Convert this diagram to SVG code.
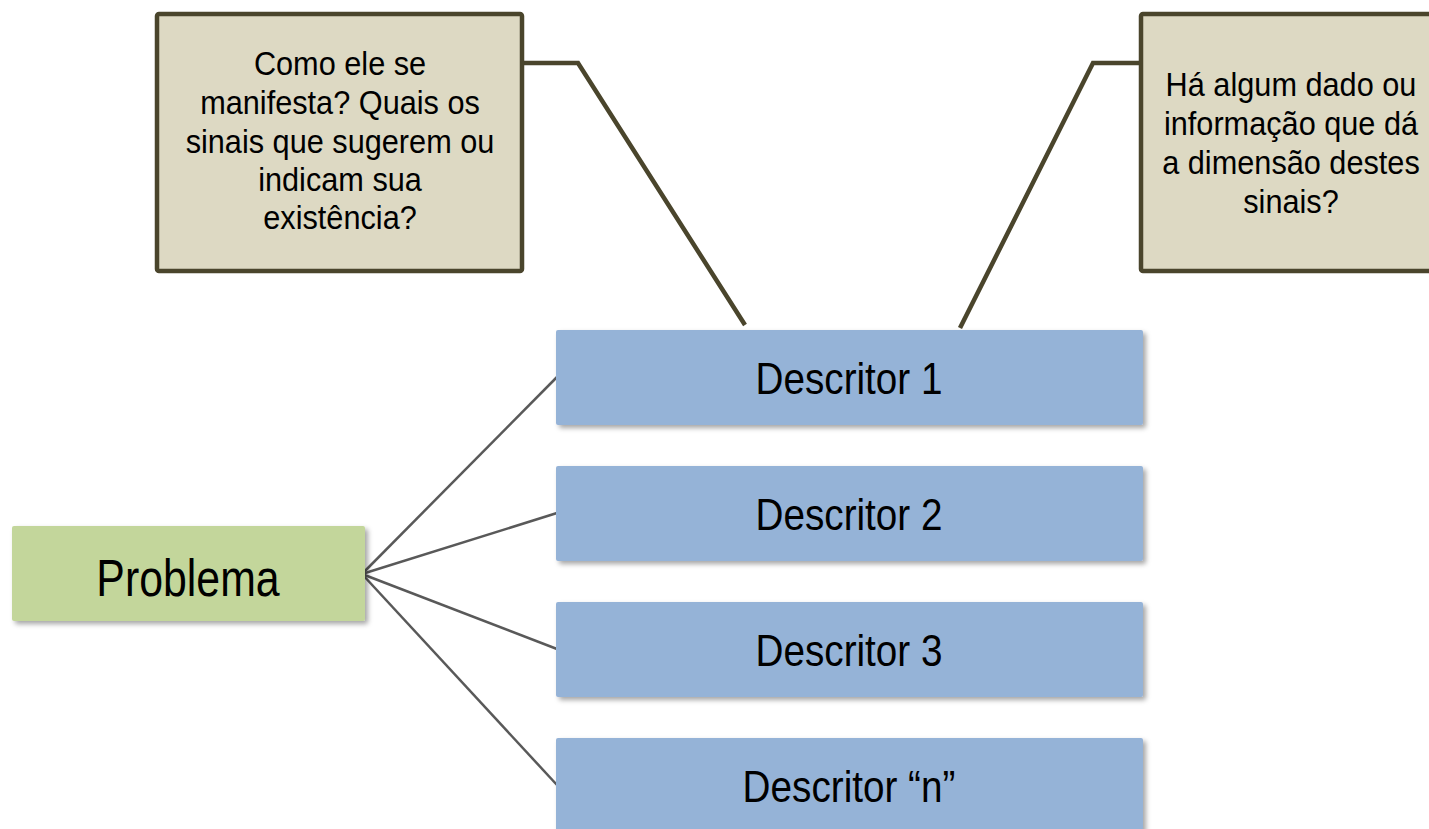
<svg xmlns="http://www.w3.org/2000/svg" width="1429" height="829" viewBox="0 0 1429 829">
<defs>
<filter id="sh" x="-10%" y="-20%" width="130%" height="150%">
<feDropShadow dx="3" dy="3" stdDeviation="2.5" flood-color="#000" flood-opacity="0.35"/>
</filter>
<style>
.t{font-family:"Liberation Sans",Arial,sans-serif;fill:#000;text-anchor:middle}
.call{fill:#ddd9c3;stroke:#4a452c;stroke-width:4.5}
.desc{fill:#95b3d7;filter:url(#sh)}
.prob{fill:#c3d69b;filter:url(#sh)}
.cl{fill:none;stroke:#4a452c;stroke-width:4.5;stroke-linejoin:miter}
.fan{fill:none;stroke:#595959;stroke-width:2.5}
</style>
</defs>
<g id="connectors">
<polyline class="cl" points="522,63 578,63 745,325"/>
<polyline class="cl" points="1141,63 1093,63 960,328"/>
<line class="fan" x1="362" y1="574" x2="557" y2="377"/>
<line class="fan" x1="362" y1="574" x2="557" y2="513"/>
<line class="fan" x1="362" y1="574" x2="557" y2="649"/>
<line class="fan" x1="362" y1="574" x2="557" y2="785"/>
</g>
<g id="callout-left">
<rect class="call" x="157" y="14" width="365" height="257" rx="2"/>
<g transform="translate(340,0) scale(0.93,1)">
<text class="t" font-size="33" x="0" y="75">Como ele se</text>
<text class="t" font-size="33" x="0" y="114">manifesta? Quais os</text>
<text class="t" font-size="33" x="0" y="153">sinais que sugerem ou</text>
<text class="t" font-size="33" x="0" y="191">indicam sua</text>
<text class="t" font-size="33" x="0" y="229">existência?</text>
</g>
</g>
<g id="callout-right">
<rect class="call" x="1141" y="14" width="300" height="257" rx="2"/>
<g transform="translate(1291,0) scale(0.93,1)">
<text class="t" font-size="33" x="0" y="96">Há algum dado ou</text>
<text class="t" font-size="33" x="0" y="135">informação que dá</text>
<text class="t" font-size="33" x="0" y="174">a dimensão destes</text>
<text class="t" font-size="33" x="0" y="213">sinais?</text>
</g>
</g>
<g id="problema">
<rect class="prob" x="12" y="526" width="353" height="95" rx="2"/>
<g transform="translate(188,0) scale(0.84,1)">
<text class="t" font-size="51" x="0" y="596">Problema</text>
</g>
</g>
<g id="descritor-1">
<rect class="desc" x="556" y="330" width="587" height="95" rx="2"/>
<g transform="translate(849,0) scale(0.86,1)"><text class="t" font-size="45" x="0" y="394">Descritor 1</text></g>
</g>
<g id="descritor-2">
<rect class="desc" x="556" y="466" width="587" height="95" rx="2"/>
<g transform="translate(849,0) scale(0.86,1)"><text class="t" font-size="45" x="0" y="530">Descritor 2</text></g>
</g>
<g id="descritor-3">
<rect class="desc" x="556" y="602" width="587" height="95" rx="2"/>
<g transform="translate(849,0) scale(0.86,1)"><text class="t" font-size="45" x="0" y="666">Descritor 3</text></g>
</g>
<g id="descritor-n">
<rect class="desc" x="556" y="738" width="587" height="100" rx="2"/>
<g transform="translate(849,0) scale(0.86,1)"><text class="t" font-size="45" x="0" y="802">Descritor “n”</text></g>
</g>
</svg>
